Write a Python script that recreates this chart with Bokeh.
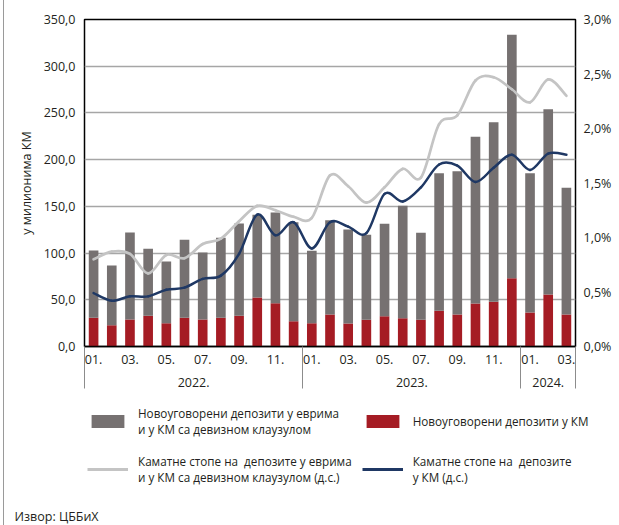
import numpy as np
from bokeh.plotting import figure
from bokeh.layouts import column
from bokeh.models import (LinearAxis, Range1d, FixedTicker, Legend, LegendItem, Label)
from bokeh.embed import file_html
from bokeh.resources import INLINE

# ---------------- data ----------------
month_labels = ["01.", "02.", "03.", "04.", "05.", "06.", "07.", "08.", "09.", "10.", "11.", "12.",
                "01.", "02.", "03.", "04.", "05.", "06.", "07.", "08.", "09.", "10.", "11.", "12.",
                "01.", "02.", "03."]
year_labels = ["2022.", "2023.", "2024."]
year_months = [12, 12, 3]

# newly contracted deposits in KM (million KM)
dep_km = [30.7, 22.8, 28.9, 32.8, 25.0, 30.7, 28.9, 30.7, 32.8, 52.4, 46.4, 27.1,
          24.8, 34.2, 24.6, 28.5, 32.5, 30.3, 28.5, 38.2, 34.2, 46.0, 47.8, 73.1,
          36.4, 55.7, 34.2]
# newly contracted deposits in EUR and KM with FX clause (million KM)
dep_eur = [72.0, 63.9, 93.1, 71.7, 66.0, 83.5, 71.7, 85.6, 98.8, 88.6, 97.0, 105.9,
           77.7, 101.0, 100.6, 91.0, 98.8, 120.3, 93.2, 147.3, 153.5, 178.4, 192.3, 260.5,
           149.1, 198.3, 135.6]
# interest rates (%), right axis
rate_eur = [0.80, 0.87, 0.85, 0.67, 0.84, 0.81, 0.94, 0.99, 1.15, 1.29, 1.25, 1.19,
            1.18, 1.57, 1.47, 1.32, 1.46, 1.63, 1.55, 2.04, 2.12, 2.44, 2.47, 2.36,
            2.24, 2.45, 2.30]
rate_km = [0.49, 0.42, 0.46, 0.46, 0.52, 0.54, 0.62, 0.65, 0.85, 1.21, 1.02, 1.14,
           0.90, 1.14, 1.10, 1.04, 1.40, 1.33, 1.46, 1.67, 1.66, 1.51, 1.64, 1.76,
           1.62, 1.77, 1.76]

y_ticks = [0, 50, 100, 150, 200, 250, 300, 350]
y_tick_labels = ["0,0", "50,0", "100,0", "150,0", "200,0", "250,0", "300,0", "350,0"]
pct_ticks = [0, 0.5, 1.0, 1.5, 2.0, 2.5, 3.0]
pct_tick_labels = ["0,0%", "0,5%", "1,0%", "1,5%", "2,0%", "2,5%", "3,0%"]

legend_labels = [
    "Новоуговорени депозити у еврима\nи у КМ са девизном клаузулом",
    "Новоуговорени депозити у КМ",
    "Каматне стопе на  депозите у еврима\nи у КМ са девизном клаузулом (д.с.)",
    "Каматне стопе на  депозите\nу КМ (д.с.)",
]
source_text = "Извор: ЦББиХ"

# ---------------- styling ----------------
FONT = "Open Sans"
FS = "12.5px"
FS_LEG = "11.7px"
C_GREY = "#767171"
C_RED = "#A51C24"
C_LGREY = "#C4C4C4"
C_NAVY = "#1F3864"
TXT = "#231F20"
SEP = "#8C8C8C"

n = len(month_labels)
x = list(range(n))

W = 619
H_MAIN = 392
H_LEG = 525 - H_MAIN

p = figure(width=W, height=H_MAIN, x_range=Range1d(-0.5, n - 0.5), y_range=Range1d(0, 350),
           output_backend="svg", toolbar_location=None,
           min_border_left=84, min_border_right=44, min_border_top=19, min_border_bottom=H_MAIN - 346)
p.extra_y_ranges = {"pct": Range1d(0, 3)}
p.outline_line_color = "black"
p.outline_line_width = 1.5
p.background_fill_color = "white"
p.border_fill_color = None

p.xgrid.grid_line_color = None
p.ygrid.grid_line_color = "#A6A6A6"
p.ygrid.grid_line_width = 1.5
p.ygrid.ticker = FixedTicker(ticks=y_ticks)

# bars (stacked: KM at the bottom, EUR / FX clause on top)
src = dict(x=x, km=dep_km, eur=dep_eur)
bars = p.vbar_stack(["km", "eur"], x="x", width=0.53, color=[C_RED, C_GREY], line_color=None, source=src)


def smooth(xs, ys):
    xs = np.asarray(xs, float)
    ys = np.asarray(ys, float)
    m = len(xs)
    x0, y0, x1, y1, cx0, cy0, cx1, cy1 = ([] for _ in range(8))
    for i in range(m - 1):
        pm = max(i - 1, 0)
        pp = min(i + 2, m - 1)
        x0.append(xs[i]); y0.append(ys[i]); x1.append(xs[i + 1]); y1.append(ys[i + 1])
        cx0.append(xs[i] + (xs[i + 1] - xs[pm]) / 6); cy0.append(ys[i] + (ys[i + 1] - ys[pm]) / 6)
        cx1.append(xs[i + 1] - (xs[pp] - xs[i]) / 6); cy1.append(ys[i + 1] - (ys[pp] - ys[i]) / 6)
    return dict(x0=x0, y0=y0, x1=x1, y1=y1, cx0=cx0, cy0=cy0, cx1=cx1, cy1=cy1)


p.bezier(source=smooth(x, rate_eur), x0="x0", y0="y0", x1="x1", y1="y1", cx0="cx0", cy0="cy0",
         cx1="cx1", cy1="cy1", line_color=C_LGREY, line_width=2.7, line_cap="round", y_range_name="pct")
p.bezier(source=smooth(x, rate_km), x0="x0", y0="y0", x1="x1", y1="y1", cx0="cx0", cy0="cy0",
         cx1="cx1", cy1="cy1", line_color=C_NAVY, line_width=2.5, line_cap="round", y_range_name="pct")

# left axis
ya = p.yaxis[0]
ya.ticker = FixedTicker(ticks=y_ticks)
ya.major_label_overrides = {t: l for t, l in zip(y_ticks, y_tick_labels)}
ya.axis_line_color = None
ya.major_tick_line_color = None
ya.minor_tick_line_color = None
ya.major_tick_out = 0
ya.major_tick_in = 0
ya.major_label_text_font = FONT
ya.major_label_text_font_size = FS
ya.major_label_text_color = TXT
ya.major_label_standoff = 9
ya.axis_label = "у милионима КМ"
ya.axis_label_text_font = FONT
ya.axis_label_text_font_size = FS
ya.axis_label_text_font_style = "normal"
ya.axis_label_text_color = TXT
ya.axis_label_standoff = 6

# right axis
ra = LinearAxis(y_range_name="pct", ticker=FixedTicker(ticks=pct_ticks))
ra.major_label_overrides = {t: l for t, l in zip(pct_ticks, pct_tick_labels)}
ra.axis_line_color = None
ra.major_tick_line_color = None
ra.minor_tick_line_color = None
ra.major_tick_out = 0
ra.major_tick_in = 0
ra.major_label_text_font = FONT
ra.major_label_text_font_size = FS
ra.major_label_text_color = TXT
ra.major_label_standoff = 8
p.add_layout(ra, "right")

# year boundaries
bounds = [-0.5]
for k in year_months:
    bounds.append(bounds[-1] + k)
year_centers = [(bounds[i] + bounds[i + 1]) / 2 for i in range(len(year_labels))]

# month axis (its minor ticks are the long year separators)
xa = p.xaxis[0]
xa.ticker = FixedTicker(ticks=x[::2], minor_ticks=bounds)
xa.major_label_overrides = {i: month_labels[i] for i in x[::2]}
xa.axis_line_color = "black"
xa.axis_line_width = 1.5
xa.major_tick_line_color = None
xa.major_tick_out = 0
xa.major_tick_in = 0
xa.minor_tick_in = 0
xa.minor_tick_out = 42
xa.minor_tick_line_color = SEP
xa.major_label_standoff = -34
xa.major_label_text_font = FONT
xa.major_label_text_font_size = FS
xa.major_label_text_color = TXT

# year axis
ya2 = LinearAxis(ticker=FixedTicker(ticks=year_centers))
ya2.major_label_overrides = {c: l for c, l in zip(year_centers, year_labels)}
ya2.axis_line_color = None
ya2.major_tick_line_color = None
ya2.minor_tick_line_color = None
ya2.major_tick_out = 0
ya2.major_tick_in = 0
ya2.major_label_standoff = 11
ya2.major_label_text_font = FONT
ya2.major_label_text_font_size = FS
ya2.major_label_text_color = TXT
p.add_layout(ya2, "below")

# ---------------- legend / source panel ----------------
p2 = figure(width=W, height=H_LEG, x_range=Range1d(0, W), y_range=Range1d(0, H_LEG),
            output_backend="svg", toolbar_location=None, x_axis_location=None, y_axis_location=None,
            min_border_left=0, min_border_right=0, min_border_top=0, min_border_bottom=0)
p2.outline_line_color = None
p2.background_fill_color = None
p2.border_fill_color = None
p2.xgrid.grid_line_color = None
p2.ygrid.grid_line_color = None
for fig in (p, p2):
    if "frame_align" in fig.properties():
        fig.frame_align = False

# legend swatches (placeholders with no visible position)
nan1 = np.array([np.nan])
g1 = p2.vbar(x=nan1, top=nan1, width=1, color=C_GREY, line_color=None)
g2 = p2.vbar(x=nan1, top=nan1, width=1, color=C_RED, line_color=None)
g3 = p2.line(x=nan1, y=nan1, line_color=C_LGREY, line_width=3)
g4 = p2.line(x=nan1, y=nan1, line_color=C_NAVY, line_width=3)

legend = Legend(items=[
    LegendItem(label=legend_labels[0], renderers=[g1]),
    LegendItem(label=legend_labels[1], renderers=[g2]),
    LegendItem(label=legend_labels[2], renderers=[g3]),
    LegendItem(label=legend_labels[3], renderers=[g4]),
], orientation="horizontal", ncols=2, location=(87, 37))
legend.glyph_width = 41
legend.glyph_height = 16
legend.label_standoff = 10
legend.label_width = 200
legend.label_height = 38
legend.spacing = 10
legend.padding = 0
legend.margin = 0
legend.border_line_color = None
legend.background_fill_alpha = 0
legend.label_text_font = FONT
legend.label_text_font_size = FS_LEG
legend.label_text_line_height = 1.0
legend.label_text_color = TXT
p2.add_layout(legend, "center")

p2.add_layout(Label(x=14, y=9, x_units="screen", y_units="screen", text=source_text,
                    text_font=FONT, text_font_size=FS, text_color=TXT, text_baseline="middle"))

layout = column(p, p2, spacing=0,
                styles={"background": "linear-gradient(to right, #ffffff 3px, #9a9a9a 3px, #9a9a9a 4px, #ffffff 4px)"})

open("out.html", "w").write(file_html(layout, INLINE))
